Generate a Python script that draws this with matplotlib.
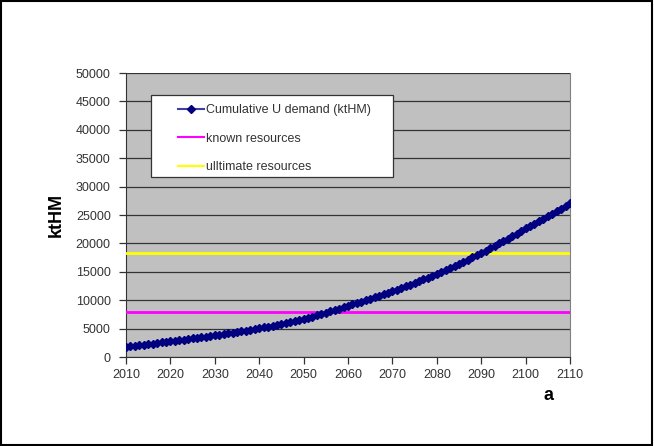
import matplotlib
matplotlib.use("Agg")
import matplotlib.pyplot as plt
from matplotlib.patches import Rectangle
import numpy as np

# yearly cumulative uranium demand (ktHM)
years = list(range(2010, 2111))
demand = [
    1800, 1890, 1980, 2075, 2170, 2265, 2360, 2455, 2555, 2650,
    2750, 2850, 2952, 3055, 3158, 3262, 3367, 3473, 3580, 3690,
    3800, 3915, 4032, 4150, 4270, 4393, 4518, 4645, 4775, 4908,
    5050, 5200, 5352, 5507, 5665, 5826, 5990, 6158, 6330, 6505,
    6685, 6895, 7110, 7330, 7555, 7785, 8020, 8260, 8505, 8750,
    9000, 9250, 9502, 9756, 10012, 10270, 10530, 10792, 11056, 11322,
    11590, 11880, 12172, 12466, 12763, 13063, 13366, 13672, 13981, 14293,
    14610, 14960, 15314, 15672, 16034, 16400, 16770, 17144, 17522, 17904,
    18290, 18710, 19135, 19562, 19992, 20425, 20860, 21298, 21738, 22180,
    22625, 23060, 23497, 23935, 24374, 24814, 25255, 25697, 26140, 26584,
    27030,
]
known_resources = 8000
ultimate_resources = 18300

x_ticks = list(range(2010, 2111, 10))
y_ticks = list(range(0, 50001, 5000))

plt.rcParams['font.family'] = ['Liberation Sans', 'DejaVu Sans']

fig = plt.figure(figsize=(6.54, 4.46), dpi=100)
ax = fig.add_axes([126 / 654, 1 - 357 / 446, 444 / 654, 284 / 446])
ax.set_facecolor('#c0c0c0')

ax.plot(years, demand, color='#000080', lw=2.2, marker='D', ms=3.8,
        label='Cumulative U demand (ktHM)', zorder=4)
ax.plot([years[0], years[-1]], [known_resources] * 2, color='#ff00ff', lw=2,
        label='known resources', zorder=3)
ax.plot([years[0], years[-1]], [ultimate_resources] * 2, color='#ffff00', lw=2,
        label='ulltimate resources', zorder=3)

ax.set_xlim(2010, 2110)
ax.set_ylim(0, 50000)
ax.set_xticks(x_ticks)
ax.set_yticks(y_ticks)
ax.yaxis.grid(True, color='#333333', lw=0.9)
ax.set_axisbelow(True)
ax.tick_params(axis='both', direction='out', length=5, width=0.9,
               color='#333333', labelsize=9, labelcolor='#333333')
ax.tick_params(axis='y', pad=6)
for s in ['left', 'bottom']:
    ax.spines[s].set_color('#333333')
ax.spines['top'].set_visible(False)
ax.spines['right'].set_color('#808080')

ax.set_ylabel('ktHM', fontsize=13, fontweight='bold', labelpad=8)
fig.text(548 / 654, 1 - 396 / 446, 'a', fontsize=13, fontweight='bold',
         ha='center', va='center')

# legend box (white, drawn separately so the padding can match)
ax.add_patch(Rectangle((25 / 444, (357 - 177) / 284), 242 / 444, 82 / 284,
                       transform=ax.transAxes, facecolor='white',
                       edgecolor='#333333', lw=0.9, zorder=5))
leg = ax.legend(loc='upper left',
                bbox_to_anchor=((178 - 126) / 444, (357 - 104.5) / 284),
                frameon=False, fontsize=9, labelspacing=1.3,
                handlelength=2.1, handletextpad=0.1, borderpad=0,
                borderaxespad=0)
leg.set_zorder(6)
for h in leg.get_lines():
    h.set_linewidth(1.5)
leg.get_lines()[0].set_markersize(4)
leg.get_lines()[0].set_color('#4040a0')
leg.get_lines()[0].set_markerfacecolor('#000080')
leg.get_lines()[0].set_markeredgecolor('#000080')
for t in leg.get_texts():
    t.set_color('#333333')

fig.patches.append(Rectangle((0.002, 0.002), 0.995, 0.996, transform=fig.transFigure,
                             fill=False, edgecolor='black', lw=1.5))

fig.savefig('out.png', dpi=100)
